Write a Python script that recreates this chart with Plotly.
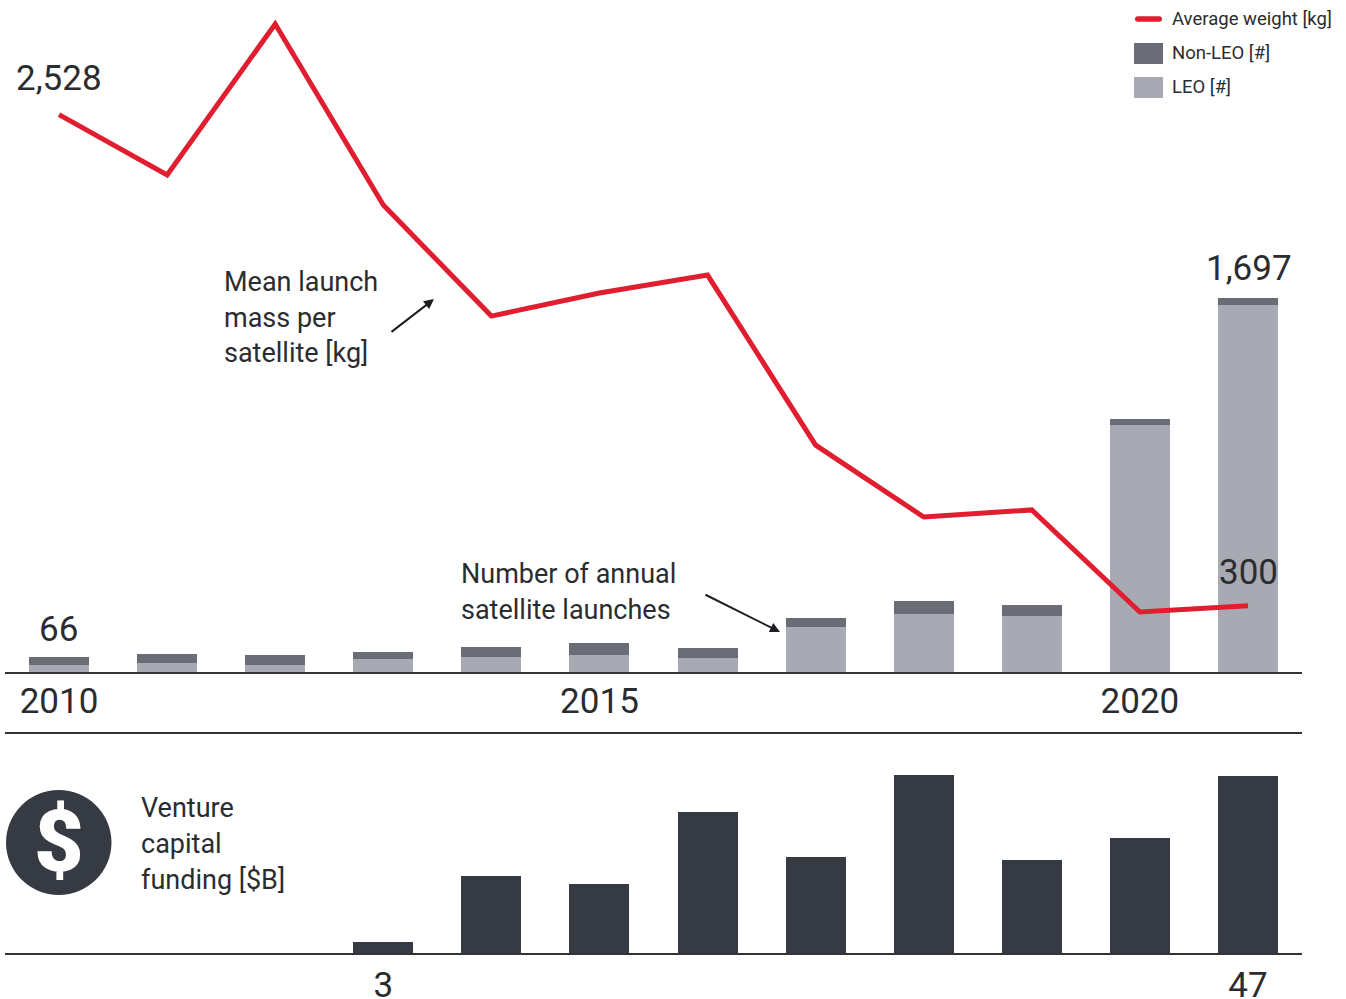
import plotly.graph_objects as go

years = list(range(2010, 2022))
leo = [30, 41, 32, 59, 66, 77, 64, 204, 263, 254, 1120, 1665]
non_leo = [36, 41, 45, 32, 47, 55, 45, 41, 59, 50, 27, 32]
avg_weight = [2528, 2254, 2939, 2118, 1614, 1719, 1800, 1029, 703, 735, 272, 300]
funding_years = [2013, 2014, 2015, 2016, 2017, 2018, 2019, 2020, 2021]
funding = [3, 20.4, 18.3, 37.4, 25.5, 47.2, 24.7, 30.5, 47]
year_ticks = [2010, 2015, 2020]
funding_ticks = [2013, 2021]

W, H = 1346, 999
FONT = "Roboto"
INK = "#2b2c30"
RED = "#e01e2f"
LEO_C = "#a7aab2"
NON_C = "#6a6d75"
DARK = "#363a42"

def px(x):
    return x / W

def py(y):
    return 1 - y / H

fig = go.Figure()
fig.add_bar(x=years, y=leo, marker_color=LEO_C, marker_line_width=0, xaxis="x", yaxis="y", showlegend=False)
fig.add_bar(x=years, y=non_leo, marker_color=NON_C, marker_line_width=0, xaxis="x", yaxis="y", showlegend=False)
fig.add_scatter(x=years, y=avg_weight, mode="lines", line=dict(color=RED, width=5), xaxis="x", yaxis="y", showlegend=False)
fig.add_bar(x=funding_years, y=funding, marker_color=DARK, marker_line_width=0, xaxis="x2", yaxis="y2", showlegend=False)

def note(text, x, y, size=27, anchor="left", color=INK, weight=None):
    """Free text placed in page coordinates, y at the vertical middle of the line."""
    fig.add_annotation(text=text, x=px(x), y=py(y), xref="paper", yref="paper", showarrow=False,
                       xanchor=anchor, yanchor="middle", align=anchor,
                       font=dict(family=FONT, size=size, color=color, weight=weight))

def value_label(text, year, value, shift, xshift=0):
    fig.add_annotation(text=text, x=year, y=value, xref="x", yref="y", showarrow=False,
                       yanchor="middle", yshift=shift, xshift=xshift,
                       font=dict(family=FONT, size=35, color=INK))

value_label(f"{avg_weight[0]:,}", years[0], avg_weight[0], 36)
value_label(f"{avg_weight[-1]:,}", years[-1], avg_weight[-1], 33, 1)
value_label(f"{leo[0] + non_leo[0]:,}", years[0], leo[0] + non_leo[0], 28, -1)
value_label(f"{leo[-1] + non_leo[-1]:,}", years[-1], leo[-1] + non_leo[-1], 29, 1)

for i, line in enumerate(["Mean launch", "mass per", "satellite [kg]"]):
    note(line, 222, 282 + i * 35.5)
for i, line in enumerate(["Number of annual", "satellite launches"]):
    note(line, 459, 574 + i * 36)
for i, line in enumerate(["Venture", "capital", "funding [$B]"]):
    note(line, 139, 808 + i * 36)

# Callout arrows
for x0, y0, x1, y1 in [(390, 333, 434, 299), (704, 594, 780, 632)]:
    fig.add_annotation(x=px(x1), y=py(y1), xref="paper", yref="paper", text="", showarrow=True,
                       axref="pixel", ayref="pixel", ax=x0 - x1, ay=y0 - y1,
                       arrowhead=2, arrowsize=1, arrowwidth=2, arrowcolor="#1e1e22")

# Legend key: a round-ended red stroke and two grey swatches
def rounded_stroke(x0, x1, yc, r):
    t, b = py(yc - r), py(yc + r)
    rx = r / W
    return (f"M {px(x0) + rx} {t} L {px(x1) - rx} {t} Q {px(x1)} {t} {px(x1)} {py(yc)} "
            f"Q {px(x1)} {b} {px(x1) - rx} {b} L {px(x0) + rx} {b} Q {px(x0)} {b} {px(x0)} {py(yc)} "
            f"Q {px(x0)} {t} {px(x0) + rx} {t} Z")

shapes = [
    dict(type="path", xref="paper", yref="paper", path=rounded_stroke(1135, 1162, 19, 2.7),
         fillcolor=RED, line_width=0),
    dict(type="rect", xref="paper", yref="paper", x0=px(1134), x1=px(1163), y0=py(43), y1=py(64),
         fillcolor=NON_C, line_width=0),
    dict(type="rect", xref="paper", yref="paper", x0=px(1134), x1=px(1163), y0=py(77), y1=py(98),
         fillcolor=LEO_C, line_width=0),
    # Divider between the two panels
    dict(type="line", xref="paper", yref="paper", x0=px(5), x1=px(1302), y0=py(733), y1=py(733),
         line=dict(color="#333338", width=2)),
    # Funding badge
    dict(type="circle", xref="paper", yref="paper", x0=px(6), x1=px(111.5), y0=py(790), y1=py(895),
         fillcolor=DARK, line_width=0),
]
for label, y in [("Average weight [kg]", 19), ("Non-LEO [#]", 53), ("LEO [#]", 87)]:
    note(label, 1170, y, size=18.5)
note("$", 58.5, 841, size=86, anchor="center", color="#ffffff", weight=900)

axis_range = [2009.5, 2021.5]
fig.update_layout(
    width=W, height=H, margin=dict(l=0, r=0, t=0, b=0, autoexpand=False),
    autosize=False, paper_bgcolor="white", plot_bgcolor="white",
    barmode="stack", bargap=0.445, shapes=shapes,
    font=dict(family=FONT, color=INK),
    xaxis=dict(domain=[px(5), px(1302)], range=axis_range, anchor="y", showgrid=False, zeroline=False,
               showline=True, linecolor="#333338", linewidth=2, tickmode="array",
               tickvals=year_ticks, ticktext=[str(v) for v in year_ticks], ticks="",
               ticklabelstandoff=-3, tickfont=dict(family=FONT, size=35, color=INK)),
    yaxis=dict(domain=[py(672), 1], range=[0, 672 / 0.2205], visible=False, fixedrange=True),
    xaxis2=dict(domain=[px(5), px(1302)], range=axis_range, anchor="y2", showgrid=False, zeroline=False,
                showline=True, linecolor="#333338", linewidth=2, tickmode="array",
                tickvals=funding_ticks, ticktext=[f"{funding[funding_years.index(v)]:g}" for v in funding_ticks],
                ticks="", tickfont=dict(family=FONT, size=35, color=INK)),
    yaxis2=dict(domain=[py(953), py(760)], range=[0, 193 / 3.766], visible=False, fixedrange=True),
)

fig.write_html("out.html", config=dict(displayModeBar=False))
